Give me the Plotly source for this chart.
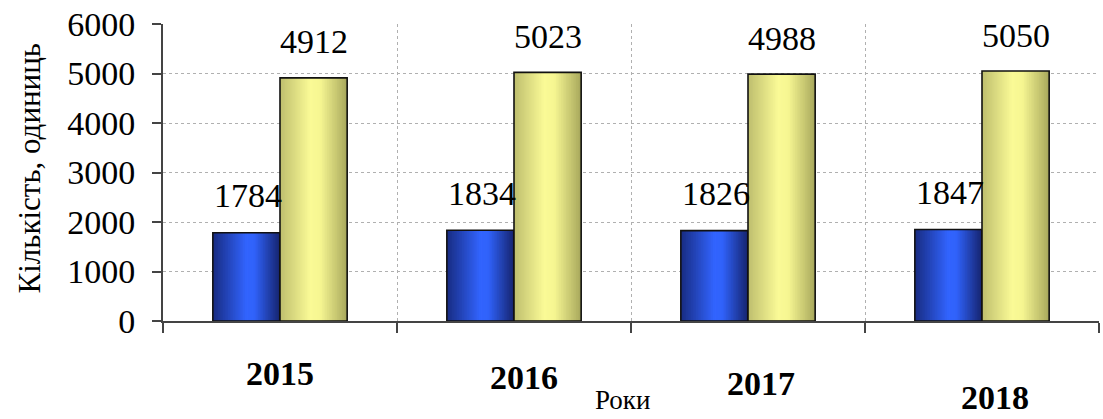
import plotly.graph_objects as go

# Data
years = ["2015", "2016", "2017", "2018"]
series_a = [1784, 1834, 1826, 1847]   # blue bars
series_b = [4912, 5023, 4988, 5050]   # yellow bars
y_ticks = [0, 1000, 2000, 3000, 4000, 5000, 6000]

FONT = "Liberation Serif"
BAR_W = 0.287          # width of one bar, in category units
CAT_PX = 234           # approximate pixel width of one category
N_STRIPS = 40          # vertical strips used to shade each bar


def lerp_stops(stops, t):
    """Piecewise-linear colour between (pos, (r, g, b)) stops."""
    for (p0, c0), (p1, c1) in zip(stops, stops[1:]):
        if p0 <= t <= p1:
            f = 0 if p1 == p0 else (t - p0) / (p1 - p0)
            rgb = [round(a + (b - a) * f) for a, b in zip(c0, c1)]
            return "rgb({},{},{})".format(*rgb)
    return "rgb({},{},{})".format(*stops[-1][1])


blue_stops = [(0.0, (24, 44, 130)), (0.5, (50, 100, 255)), (0.62, (48, 98, 250)), (1.0, (22, 36, 110))]
yellow_stops = [(0.0, (190, 190, 110)), (0.45, (250, 250, 150)), (0.6, (246, 246, 146)), (1.0, (168, 168, 92))]

fig = go.Figure()


def shaded_bars(values, left_offset, stops):
    sw = BAR_W / N_STRIPS
    for i in range(N_STRIPS):
        t = (i + 0.5) / N_STRIPS
        w = min(2.5 * sw, BAR_W - i * sw)
        fig.add_trace(go.Bar(
            x=years, y=values,
            width=w, offset=left_offset + i * sw,
            marker=dict(color=lerp_stops(stops, t), line=dict(width=0)),
            hoverinfo="skip", showlegend=False,
        ))
    # outline on top
    fig.add_trace(go.Bar(
        x=years, y=values, width=BAR_W, offset=left_offset,
        marker=dict(color="rgba(0,0,0,0)", line=dict(color="#111111", width=1.6)),
        showlegend=False,
    ))


shaded_bars(series_a, -BAR_W, blue_stops)
shaded_bars(series_b, 0.0, yellow_stops)

annotations = []
# value labels above bars (x given as category index)
for i, (a, b) in enumerate(zip(series_a, series_b)):
    annotations.append(dict(x=i, y=a, text=str(a), showarrow=False, xshift=-BAR_W * CAT_PX / 2 + 2,
                            yshift=37, xanchor="center", yanchor="middle",
                            font=dict(family=FONT, size=34, color="#000000")))
    annotations.append(dict(x=i, y=b, text=str(b), showarrow=False, xshift=BAR_W * CAT_PX / 2,
                            yshift=36, xanchor="center", yanchor="middle",
                            font=dict(family=FONT, size=34, color="#000000")))

# staggered year labels
year_shift = [(0, -52), (10, -56), (13, -62), (13, -76)]
for i, (yr, (dx, dy)) in enumerate(zip(years, year_shift)):
    annotations.append(dict(x=i, y=0, text="<b>" + yr + "</b>", showarrow=False,
                            xshift=dx, yshift=dy, xanchor="center", yanchor="middle",
                            font=dict(family=FONT, size=34, color="#000000")))

# axis titles
annotations.append(dict(xref="paper", yref="paper", x=0, y=0, text="Роки", showarrow=False,
                        xshift=622 - 163, yshift=-(400 - 321), xanchor="center", yanchor="middle",
                        borderpad=0,
                        font=dict(family=FONT, size=27, color="#000000")))
annotations.append(dict(xref="paper", yref="paper", x=0, y=0.5, text="Кількість, одиниць",
                        showarrow=False, textangle=-90, xshift=-134, yshift=4,
                        xanchor="center", yanchor="middle",
                        font=dict(family=FONT, size=31, color="#000000")))

fig.update_layout(
    width=1103, height=419,
    margin=dict(l=163, r=4, t=24, b=98),
    barmode="overlay",
    plot_bgcolor="white", paper_bgcolor="white",
    annotations=annotations,
    xaxis=dict(
        type="category", showticklabels=False,
        tickson="boundaries", ticks="outside", ticklen=10, tickwidth=2, tickcolor="#444444",
        showline=True, linecolor="#444444", linewidth=2,
        showgrid=True, gridcolor="#b0b0b0", griddash="dot", gridwidth=1.2,
        range=[-0.5, 3.5],
    ),
    yaxis=dict(
        range=[0, 6000], tickvals=y_ticks,
        ticks="outside", ticklen=9, tickwidth=2, tickcolor="#444444",
        showline=True, linecolor="#444444", linewidth=2,
        showgrid=True, gridcolor="#b0b0b0", griddash="dot", gridwidth=1.2,
        zeroline=False,
        tickfont=dict(family=FONT, size=34, color="#000000"),
        ticklabelstandoff=10,
    ),
)

fig.write_html("out.html")
